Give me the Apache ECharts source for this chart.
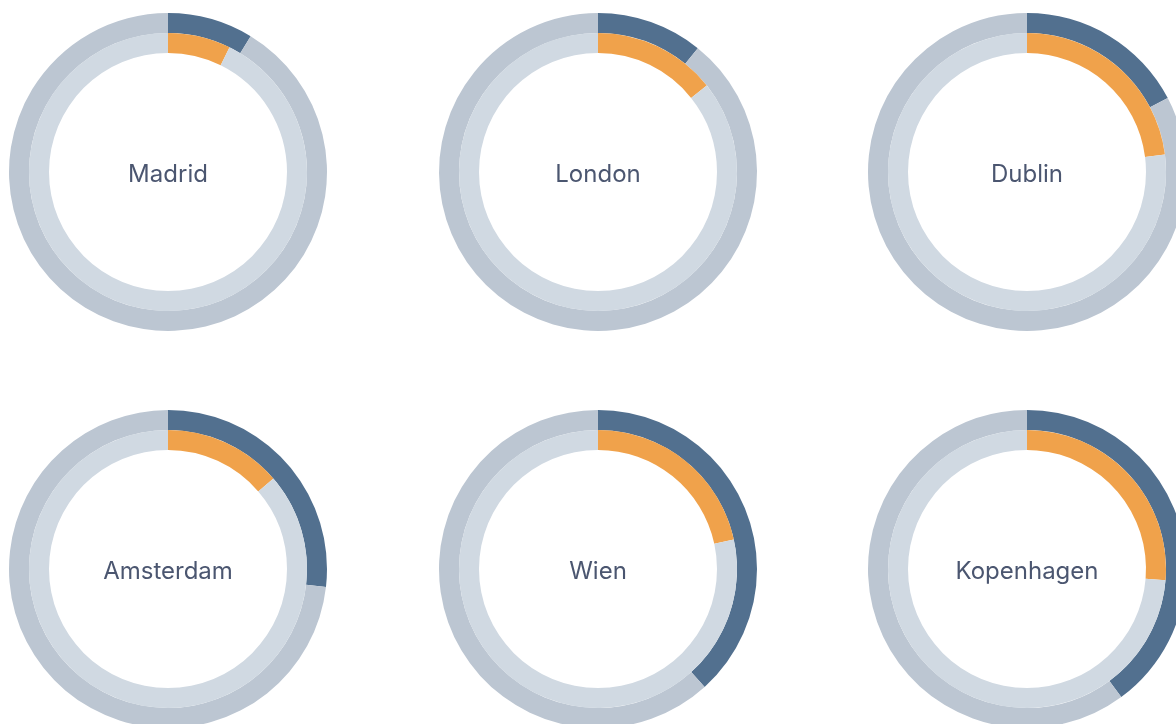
<!DOCTYPE html>
<html>
<head>
<meta charset="utf-8">
<script src="https://cdn.jsdelivr.net/npm/echarts@6/dist/echarts.min.js"></script>
<style>
html,body{margin:0;padding:0;background:#fff;}
#chart{width:1176px;height:724px;}
</style>
</head>
<body>
<div id="chart"></div>
<script>
// Data
const cities = ["Madrid", "London", "Dublin", "Amsterdam", "Wien", "Kopenhagen"];
const outerValues = [8.7, 10.8, 17.3, 26.8, 38.3, 39.9];   // dark blue outer ring (%)
const innerValues = [7.3, 14.3, 23.0, 13.7, 21.6, 26.3];   // orange inner ring (%)
const total = 100;

// Layout
const centersX = [168, 598, 1027];
const centersY = [172, 569];
const outerRadius = [139, 159];
const innerRadius = [119, 139];
const labelDy = 3;

const colors = {
  outerFill: "#52708f",
  outerRest: "#bcc6d2",
  innerFill: "#f0a24b",
  innerRest: "#d0d9e2",
  text: "#4b5670"
};

const series = [];
const titles = [];
cities.forEach((city, i) => {
  const cx = centersX[i % 3];
  const cy = centersY[Math.floor(i / 3)];
  const base = {
    type: "pie",
    center: [cx, cy],
    startAngle: 90,
    clockwise: true,
    silent: true,
    animation: false,
    label: { show: false },
    labelLine: { show: false },
    emphasis: { disabled: true },
    itemStyle: { borderWidth: 0 }
  };
  series.push(Object.assign({}, base, {
    name: city + " outer",
    radius: outerRadius,
    data: [
      { value: outerValues[i], itemStyle: { color: colors.outerFill } },
      { value: total - outerValues[i], itemStyle: { color: colors.outerRest } }
    ]
  }));
  series.push(Object.assign({}, base, {
    name: city + " inner",
    radius: innerRadius,
    data: [
      { value: innerValues[i], itemStyle: { color: colors.innerFill } },
      { value: total - innerValues[i], itemStyle: { color: colors.innerRest } }
    ]
  }));
  titles.push({
    text: city,
    left: cx,
    top: cy + labelDy,
    padding: 0,
    textAlign: "center",
    textVerticalAlign: "middle",
    textStyle: {
      fontFamily: "Inter",
      fontSize: 24,
      fontWeight: "normal",
      color: colors.text
    }
  });
});

const chart = echarts.init(document.getElementById("chart"), null, { renderer: "canvas" });
chart.setOption({
  backgroundColor: "#ffffff",
  animation: false,
  title: titles,
  series: series
});
</script>
</body>
</html>
